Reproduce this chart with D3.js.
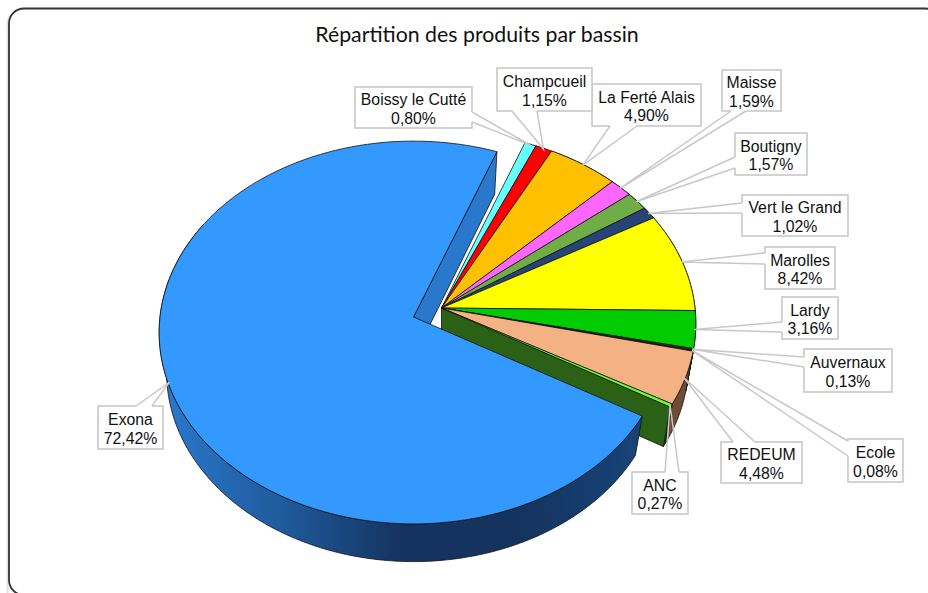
<!DOCTYPE html>
<html lang="fr">
<head>
<meta charset="utf-8">
<script src="https://cdn.jsdelivr.net/npm/d3@7"></script>
<style>
html,body{margin:0;padding:0;background:#fff;overflow:hidden}
svg{display:block}
</style>
</head>
<body>
<svg id="c" width="928" height="593"></svg>
<script>
const title = "Répartition des produits par bassin";
const categories = ["Exona","Boissy le Cutté","Champcueil","La Ferté Alais","Maisse","Boutigny","Vert le Grand","Marolles","Lardy","Auvernaux","Ecole","REDEUM","ANC"];
const shares = [72.42,0.80,1.15,4.90,1.59,1.57,1.02,8.42,3.16,0.13,0.08,4.48,0.27];
const topColors = ["#3399ff","#66ffff","#ff0000","#ffc000","#ff66ff","#70ad47","#264478","#ffff00","#00cc00","#5a3a10","#2a2a2a","#f4b183","#66ff33"];
const wallColors = ["#2a78cb","#3fb0b0","#a00000","#b08400","#b040b0","#4d7a30","#1a2f52","#b0b000","#008c00","#3c2608","#1a1a1a","#6e4c37","#2b6116"];

// Callout boxes: [x0, y0, x1, y1] and the two points where the leader meets the box.
const boxes = [
  [98,406,163,449],[355,87,472,128],[497,68,592,111],[592,84,701,126],
  [722,70,781,111],[735,133,807,175],[742,195,848,236],[765,247,835,289],
  [782,297,838,339],[804,349,892,392],[848,439,903,482],[721,442,802,483],[632,472,688,514]
];
const leaderEnds = [
  [[136,406],[152,406]],[[472,112],[472,122]],[[512,111],[537,111]],[[610,126],[637,126]],
  [[731,111],[746,111]],[[735,157],[735,168]],[[742,203],[742,213]],[[765,253],[765,264]],
  [[782,322],[782,332]],[[804,357],[804,367]],[[848,441],[848,456]],[[733,442],[755,442]],[[665,472],[679,472]]
];

const svg = d3.select("#c");
const defs = svg.append("defs");
const grad = defs.append("linearGradient").attr("id","exonaWall")
  .attr("gradientUnits","userSpaceOnUse").attr("x1",165).attr("x2",640).attr("y1",0).attr("y2",0);
[[0,"#2a78cb"],[0.25,"#1f5a9c"],[0.5,"#14335f"],[0.75,"#14345f"],[1,"#174478"]]
  .forEach(([o,c])=>grad.append("stop").attr("offset",o).attr("stop-color",c));

// Frame
svg.append("rect").attr("x",7.5).attr("y",9.5).attr("width",940).attr("height",600).attr("rx",15)
  .attr("fill","none").attr("stroke","#e2e2e2").attr("stroke-width",2);
svg.append("rect").attr("x",9).attr("y",8.5).attr("width",931).attr("height",586.5).attr("rx",15)
  .attr("fill","#fff").attr("stroke","#333").attr("stroke-width",1.8);

svg.append("text").attr("x",477).attr("y",42).attr("text-anchor","middle")
  .attr("font-family","Lato, 'Open Sans', sans-serif").attr("font-size",21.3).attr("fill","#111").text(title);

// 3D disc projection
const R = 253.5, tilt = 0.75, persp = 0.081, shrink = 0.03, depth = 42;
const project = (a, r, z, c) => {
  const u = r*Math.sin(a), v = -r*Math.cos(a), s = 1/(1 - persp*v + shrink*z);
  return [c[0] + R*u*s, c[1] + R*tilt*v*s + depth*z*s];
};
const rad = d => d*Math.PI/180;
const arcPts = (a0,a1,z,c) => {
  const n = Math.max(2, Math.ceil(Math.abs(a1-a0)/rad(1)));
  return d3.range(n+1).map(i => project(a0+(a1-a0)*i/n, 1, z, c));
};
const line = d3.line();
const closed = pts => line(pts) + "Z";

const pie = d3.pie().sort(null).value(d=>d).startAngle(rad(120)).endAngle(rad(480));
const arcs = pie(shares);
const groupCentre = [441.5,308], exonaCentre = [413.5,317];
const paint = (g,d,fill) => g.append("path").attr("d",d).attr("fill",fill)
  .attr("stroke","#111").attr("stroke-width",0.8).attr("stroke-linejoin","round");

const pieG = svg.append("g");
const rest = arcs.slice(1);
rest.forEach((d,i)=>{
  if (d.endAngle > rad(400)) {
    paint(pieG, closed([...arcPts(d.startAngle,d.endAngle,0,groupCentre),...arcPts(d.endAngle,d.startAngle,1,groupCentre)]), wallColors[i+1]);
  }
});
const last = rest[rest.length-1];
paint(pieG, closed([project(last.endAngle,0,0,groupCentre),project(last.endAngle,1,0,groupCentre),project(last.endAngle,1,1,groupCentre),project(last.endAngle,0,1,groupCentre)]), wallColors[12]);
rest.forEach((d,i)=>{
  paint(pieG, closed([project(0,0,0,groupCentre),...arcPts(d.startAngle,d.endAngle,0,groupCentre)]), topColors[i+1]);
});
const ex = arcs[0];
paint(pieG, closed([project(ex.endAngle,0,0,exonaCentre),project(ex.endAngle,1,0,exonaCentre),project(ex.endAngle,1,1,exonaCentre),project(ex.endAngle,0,1,exonaCentre)]), wallColors[0]);
const frontEnd = Math.min(ex.endAngle, rad(300));
paint(pieG, closed([...arcPts(ex.startAngle,frontEnd,0,exonaCentre),...arcPts(frontEnd,ex.startAngle,1,exonaCentre)]), "url(#exonaWall)");
paint(pieG, closed([project(0,0,0,exonaCentre),...arcPts(ex.startAngle,ex.endAngle,0,exonaCentre)]), topColors[0]);

// Callouts
const callG = svg.append("g");
const order = [0,1,3,2,4,5,6,7,8,9,10,11,12];
const fmt = v => d3.format(".2f")(v).replace(".",",") + "%";
order.forEach(i=>{
  const [x0,y0,x1,y1] = boxes[i], [p,q] = leaderEnds[i];
  const d = arcs[i], mid = (d.startAngle+d.endAngle)/2;
  const tip = project(mid, 0.995, 0, i===0 ? exonaCentre : groupCentre);
  callG.append("rect").attr("x",x0).attr("y",y0).attr("width",x1-x0).attr("height",y1-y0)
    .attr("fill","#fff").attr("stroke","#c8c8c8").attr("stroke-width",1.6);
  callG.append("path").attr("d",line([p,q])).attr("stroke","#fff").attr("stroke-width",2.2);
  callG.append("path").attr("d",line([p,tip,q])).attr("fill","none").attr("stroke","#c8c8c8").attr("stroke-width",1.5);
  const cx=(x0+x1)/2, cy=(y0+y1)/2;
  const t = callG.append("text").attr("text-anchor","middle")
    .attr("font-family","'Liberation Sans', Arial, sans-serif").attr("font-size",15.8).attr("fill","#111");
  t.append("tspan").attr("x",cx).attr("y",cy-2.5).text(categories[i]);
  t.append("tspan").attr("x",cx).attr("y",cy+16).text(fmt(shares[i]));
});
</script>
</body>
</html>
